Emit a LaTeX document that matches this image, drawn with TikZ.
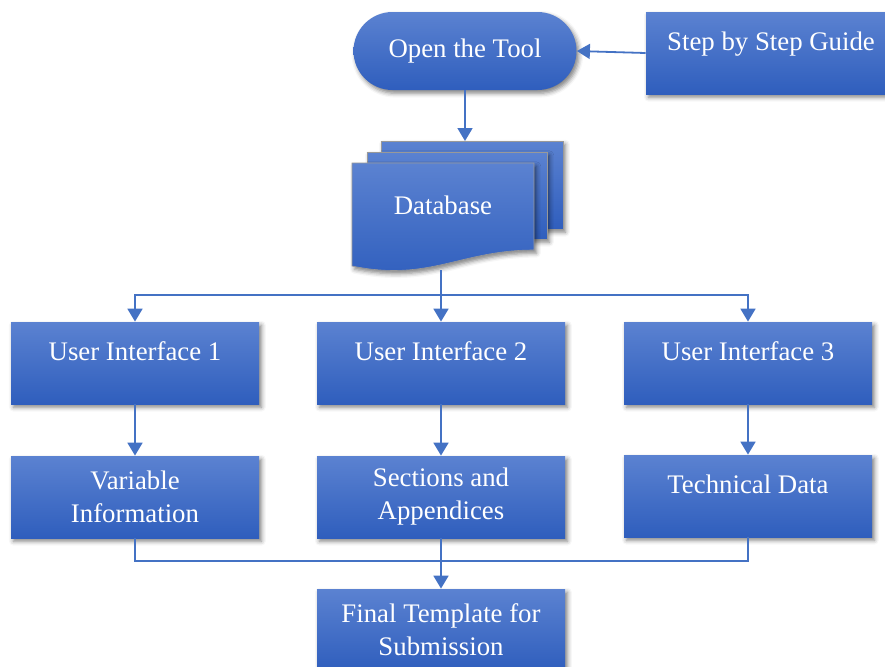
\documentclass[tikz,border=0pt]{standalone}
\usepackage{fontspec}
\setmainfont{Liberation Serif}
\usetikzlibrary{arrows.meta, shadows.blur}
\definecolor{boxtop}{HTML}{5B82D1}
\definecolor{boxbottom}{HTML}{2F5EBD}
\definecolor{linkcolor}{HTML}{4472C4}

\begin{document}
\begin{tikzpicture}[x=0.5pt, y=-0.5pt,
    block/.style={rectangle, top color=boxtop, bottom color=boxbottom, draw=none, text=white, minimum width=124pt, minimum height=41pt, font=\fontsize{13.4}{16.5}\selectfont, align=center, blur shadow={shadow xshift=1.2pt, shadow yshift=-1.6pt, shadow blur radius=2.2pt, shadow opacity=50}},
    oneline/.style={block, text height=9pt, text depth=11.5pt},
    terminal/.style={block, rounded corners=19.5pt, minimum width=111.5pt, minimum height=39pt},
    page/.style={top color=boxtop, bottom color=boxbottom, draw=gray!80, line width=0.3pt, blur shadow={shadow xshift=1.2pt, shadow yshift=-1.6pt, shadow blur radius=2.2pt, shadow opacity=50}},
    line/.style={linkcolor, line width=0.9pt},
    link/.style={line, -{Triangle[length=6.5pt, width=7.5pt]}}
]
\useasboundingbox (0,0) rectangle (885,666);

% Start and the guide feeding into it
\node[terminal] (open) at (465,51) {Open the Tool};
\node[oneline, minimum width=125pt] (guide) at (771,53) {Step by Step Guide};

% Database as a stack of pages
\path[page] (381,141) rectangle (563,229);
\path[page] (367,152) rectangle (547,239);
\path[page] (352,163) -- (534,163) -- (534,250) .. controls (460,250) and (430,282) .. (352,266) -- cycle;
\node[text=white, font=\fontsize{13.4}{16.5}\selectfont] (db) at (443,205) {Database};
\coordinate (db-in) at (465,141);
\coordinate (db-out) at (441,270);

\draw[link] (guide.west) -- (open.east);
\draw[link] (open.south) -- (db-in);

% Three user interfaces
\node[oneline] (ui1) at (135,363) {User Interface 1};
\node[oneline] (ui2) at (441,363) {User Interface 2};
\node[oneline] (ui3) at (748,363) {User Interface 3};

\coordinate (split) at (441,295);
\draw[line] (db-out) -- (split);
\foreach \ui in {ui1,ui2,ui3}
    \draw[link] (split) -| (\ui.north);

% What each interface collects
\node[block] (var) at (135,497) {Variable\\Information};
\node[block] (sec) at (441,497) {Sections and\\Appendices};
\node[oneline] (tech) at (748,496) {Technical Data};

\draw[link] (ui1) -- (var);
\draw[link] (ui2) -- (sec);
\draw[link] (ui3) -- (tech);

% Merge into the final template
\node[block] (final) at (441,630) {Final Template for\\Submission};

\coordinate (merge) at (441,561);
\draw[line] (var.south) |- (merge) -| (tech.south);
\draw[line] (sec.south) -- (merge);
\draw[link] (merge) -- (final.north);
\end{tikzpicture}
\end{document}
